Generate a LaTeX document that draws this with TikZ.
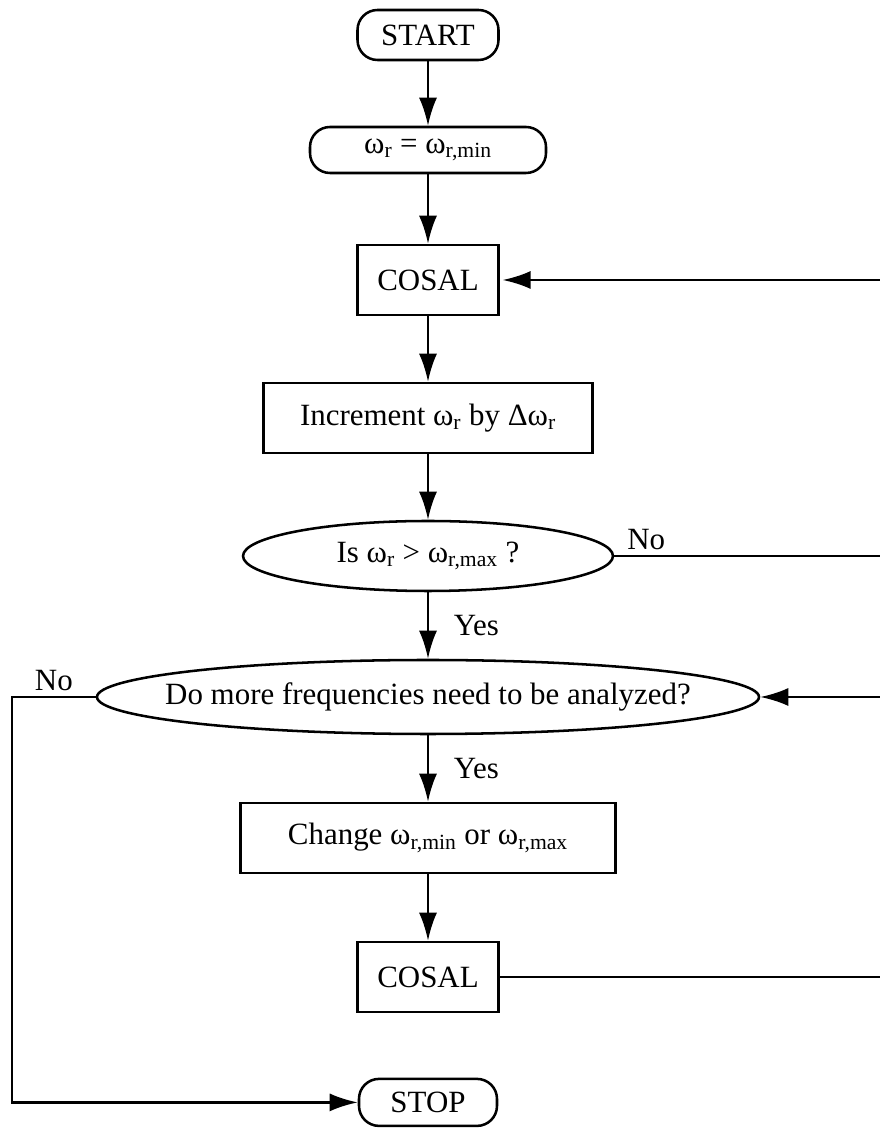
\documentclass[tikz,border=0pt]{standalone}
\usepackage{fontspec}
\setmainfont{Liberation Serif}
\usetikzlibrary{shapes.geometric,arrows.meta}
\newcommand{\omr}[1]{ω\textsubscript{#1}}
\newcommand{\zw}[1]{\makebox[0pt]{#1}}
\tikzstyle{term} = [draw, rounded corners=0.5cm, inner sep=0pt]
\tikzstyle{proc} = [draw, rectangle, minimum height=1.75cm, inner sep=0pt]
\tikzstyle{test} = [draw, ellipse, inner sep=0pt]

\begin{document}
\begin{tikzpicture}[line width=1.8pt, font=\fontsize{22}{26}\selectfont,
  >={Latex[length=7mm,width=4.5mm]}]
  \useasboundingbox (0,0) rectangle (22,28.2);
  \node (start) at (10.7,27.325) [term, minimum width=3.525cm, minimum height=1.25cm] {START};
  \node (init) at (10.7,24.45) [term, minimum width=5.9cm, minimum height=1.15cm] {\omr{r} = \omr{r,min}};
  \node (cosA) at (10.7,21.2) [proc, minimum width=3.525cm] {COSAL};
  \node (incr) at (10.7,17.75) [proc, minimum width=8.225cm] {Increment \omr{r} by Δ\omr{r}};
  \node (isq) at (10.7,14.3) [test, minimum width=9.25cm, minimum height=1.75cm] {\zw{Is \omr{r} > \omr{r,max} ?}};
  \node (doq) at (10.7,10.775) [test, minimum width=16.55cm, minimum height=1.85cm] {\zw{Do more frequencies need to be analyzed?}};
  \node (chg) at (10.7,7.25) [proc, minimum width=9.375cm] {Change \omr{r,min} or \omr{r,max}};
  \node (cosB) at (10.7,3.775) [proc, minimum width=3.525cm] {COSAL};
  \node (stop) at (10.7,0.64) [term, minimum width=3.45cm, minimum height=1.175cm] {STOP};
  % loose ends at the edges
  \coordinate (eA) at (22,21.2);
  \coordinate (eB) at (22,14.3);
  \coordinate (eC) at (22,10.775);
  \coordinate (eD) at (22,3.775);
  \coordinate (wA) at (0.3,10.775);
  \draw [->] (start) -- (init);
  \draw [->] (init) -- (cosA);
  \draw [->] (cosA) -- (incr);
  \draw [->] (incr) -- (isq);
  \draw [->] (isq) -- node [right, xshift=0.5cm] {Yes} (doq);
  \draw [->] (doq) -- node [right, xshift=0.5cm] {Yes} (chg);
  \draw [->] (chg) -- (cosB);
  \draw [->, shorten >=2pt] (eA) -- (cosA);
  \draw (isq) -- node [above, pos=0.12] {No} (eB);
  \draw [->] (eC) -- (doq);
  \draw (cosB) -- (eD);
  \draw [->] (doq) -- node [above] {No} (wA) |- (stop);
\end{tikzpicture}
\end{document}
